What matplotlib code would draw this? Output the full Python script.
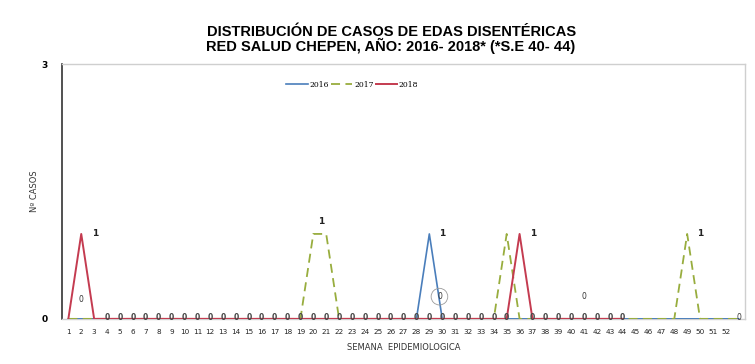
import matplotlib
matplotlib.use("Agg")
from matplotlib import pyplot as plt
import numpy as np

# semanas epidemiologicas
weeks = list(range(1, 54))
week_labels = [str(w) for w in range(1, 53)] + [""]

# casos por semana
cases_2016 = [0] * 53
cases_2016[29 - 1] = 1
cases_2017 = [0] * 53
cases_2017[20 - 1] = 1
cases_2017[21 - 1] = 1
cases_2017[35 - 1] = 1
cases_2017[49 - 1] = 1
cases_2018 = [0] * 44
cases_2018[2 - 1] = 1
cases_2018[36 - 1] = 1

c16 = '#4a7ebb'
c17 = '#98ad3e'
c18 = '#c43b50'

fig = plt.figure(figsize=(7.55, 3.64), dpi=100)
ax = fig.add_axes([0.082, 0.124, 0.905, 0.70])

x16 = np.arange(len(cases_2016))
x17 = np.arange(len(cases_2017))
x18 = np.arange(len(cases_2018))

ax.plot(x16, cases_2016, color=c16, lw=1.2, label='2016', zorder=3)
ax.plot(x17, cases_2017, color=c17, lw=1.3, ls=(0, (5, 3)), label='2017', zorder=4)
ax.plot(x18, cases_2018, color=c18, lw=1.4, label='2018', zorder=5)

# etiquetas de datos 2018
for i, v in enumerate(cases_2018):
    if v > 0:
        ax.annotate(str(v), (i, v), xytext=(10, 0), textcoords='offset points',
                    fontsize=6.5, fontweight='bold', va='center', ha='center', color='#222222')
    elif i > 2:
        ax.annotate(str(v), (i, v), xytext=(0, 1), textcoords='offset points',
                    fontsize=5.5, fontweight='bold', va='center', ha='center', color='#444444', zorder=6)

# etiquetas de picos 2016 / 2017
i = cases_2016.index(1)
ax.annotate('1', (i, 1), xytext=(9, 0), textcoords='offset points',
            fontsize=6.5, fontweight='bold', va='center', ha='center', color='#222222')
ax.annotate('1', (19, 1), xytext=(6, 9), textcoords='offset points',
            fontsize=6.5, fontweight='bold', va='center', ha='center', color='#222222')
ax.annotate('1', (48, 1), xytext=(9, 0), textcoords='offset points',
            fontsize=6.5, fontweight='bold', va='center', ha='center', color='#222222')

# ceros sueltos
ax.annotate(str(cases_2016[1]), (1, cases_2016[1]), xytext=(0, 14), textcoords='offset points',
            fontsize=5.5, ha='center', va='center', color='#333333')
ax.annotate(str(cases_2016[29]), (29, cases_2016[29]), xytext=(-2, 16), textcoords='offset points',
            fontsize=5.5, ha='center', va='center', color='#333333',
            bbox=dict(boxstyle='circle,pad=0.5', fc='none', ec='#9a9a9a', lw=0.6))
ax.annotate(str(cases_2017[40]), (40, cases_2017[40]), xytext=(0, 16), textcoords='offset points',
            fontsize=5.5, ha='center', va='center', color='#333333')
ax.annotate(str(cases_2016[52]), (52, cases_2016[52]), xytext=(0, 1), textcoords='offset points',
            fontsize=5.5, ha='center', va='center', color='#333333')

ax.set_xlim(-0.5, 52.5)
ax.set_ylim(0, 3)
ax.set_yticks([0, 3])
ax.set_yticklabels(['0', '3'], fontsize=6.5, fontweight='bold')
ax.set_xticks(x16)
ax.set_xticklabels(week_labels, fontsize=5.2, color='#222222')
ax.tick_params(axis='both', length=0)
ax.tick_params(axis='x', pad=7)
ax.tick_params(axis='y', pad=10)

for s in ['top', 'right', 'bottom']:
    ax.spines[s].set_color('#cfcfcf')
    ax.spines[s].set_linewidth(1.0)
ax.spines['left'].set_color('#333333')
ax.spines['left'].set_linewidth(1.2)

ax.set_ylabel('Nº CASOS', fontsize=6, labelpad=2, color='#333333')
ax.set_xlabel('SEMANA  EPIDEMIOLOGICA', fontsize=6, labelpad=6, color='#333333')

ax.legend(loc='upper center', bbox_to_anchor=(0.425, 0.96), ncol=3, frameon=False,
          handlelength=2.8, columnspacing=0.3, handletextpad=0.2,
          prop={'family': 'DejaVu Serif', 'size': 5.5})

fig.text(0.518, 0.913, 'DISTRIBUCIÓN DE CASOS DE EDAS DISENTÉRICAS',
         ha='center', va='center', fontsize=10.5, fontweight='bold', family='Liberation Sans')
fig.text(0.518, 0.875, 'RED SALUD CHEPEN, AÑO: 2016- 2018* (*S.E 40- 44)',
         ha='center', va='center', fontsize=10.5, fontweight='bold', family='Liberation Sans')

fig.savefig('out.png', dpi=100)
